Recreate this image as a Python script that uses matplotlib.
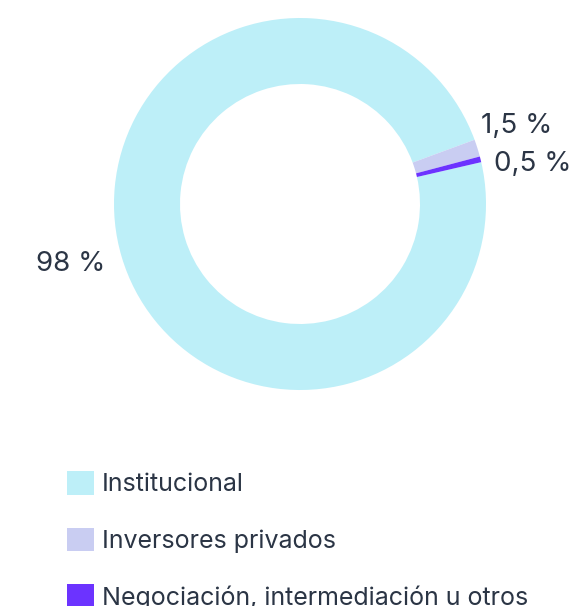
import matplotlib.pyplot as plt

plt.rcParams['font.family'] = ['Inter', 'DejaVu Sans']

categorias = ['Institucional', 'Inversores privados', 'Negociación, intermediación u otros']
valores = [98, 1.5, 0.5]
etiquetas = ['98 %', '1,5 %', '0,5 %']
colores = ['#BDEFF8', '#C9CDF2', '#6C33FF']
texto = '#2B3545'

W, H = 577, 606
fig = plt.figure(figsize=(W / 100, H / 100), dpi=100)
ax = fig.add_axes([0, 0, 1, 1])
ax.set_xlim(0, W)
ax.set_ylim(0, H)
ax.set_aspect('equal')
ax.axis('off')

# donut, empieza a 13 grados y gira en sentido horario
wedges, _ = ax.pie(valores, colors=colores, startangle=13, counterclock=False,
                   center=(300, H - 204), radius=186,
                   wedgeprops=dict(width=66, linewidth=0))
ax.set_xlim(0, W)
ax.set_ylim(0, H)

# etiquetas de porcentaje
pos = [(71, H - 264), (517, H - 126), (533, H - 164)]
for (x, y), t in zip(pos, etiquetas):
    ax.text(x, y, t, ha='center', va='center', fontsize=20, color=texto)

leg = ax.legend(wedges, categorias, loc='upper left',
                bbox_to_anchor=(67 / W, 1 - 471 / H), bbox_transform=fig.transFigure,
                frameon=False, fontsize=18, handlelength=1.08, handleheight=1.08,
                handletextpad=0.3, labelspacing=1.25, borderpad=0, borderaxespad=0)
for t in leg.get_texts():
    t.set_color(texto)

plt.savefig('out.png', dpi=100)
